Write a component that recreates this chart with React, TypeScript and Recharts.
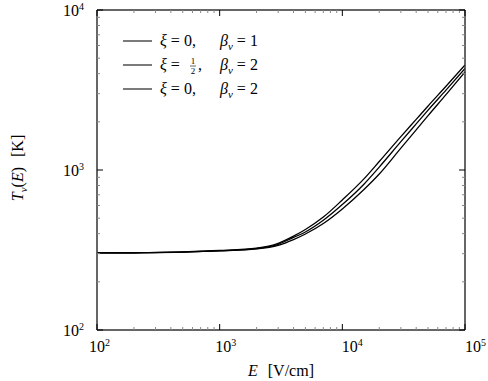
import { LineChart, Line, XAxis, YAxis, Legend, Label } from 'recharts';

// field strength E [V/cm]
const fieldE = [100, 200, 500, 1000, 2000, 3000, 4000, 5000, 7000, 10000, 15000, 20000, 30000, 40000, 50000, 70000, 100000];
// T_nu(E) [K]
const tXi0Beta1 = [303, 304, 308, 314, 325, 348, 386, 425, 508, 650, 880, 1130, 1617, 2072, 2512, 3335, 4530];
const tXiHalfBeta2 = [303, 304, 307, 313, 323, 343, 379, 410, 485, 608, 815, 1043, 1503, 1941, 2366, 3155, 4306];
const tXi0Beta2 = [303, 304, 307, 312, 321, 338, 367, 398, 463, 571, 755, 944, 1370, 1781, 2188, 2958, 4100];

const xMajorTicks = [100, 1000, 10000, 100000];
const yMajorTicks = [100, 1000, 10000];
const minorSteps = [2, 3, 4, 5, 6, 7, 8, 9];

const legendXi = ['0', '1/2', '0'];
const legendBeta = ['1', '2', '2'];

const FONT = '"Liberation Serif", "DejaVu Serif", serif';
const FRAME = '#333';
const PLOT_LEFT = 97;

const withMinors = (majors: number[]) => {
  const out: number[] = [];
  majors.forEach((m, i) => {
    out.push(m);
    if (i < majors.length - 1) minorSteps.forEach(s => out.push(m * s));
  });
  return out;
};

const xTicks = withMinors(xMajorTicks);
const yTicks = withMinors(yMajorTicks);

const data = fieldE.map((E, i) => ({
  E,
  a: tXi0Beta1[i],
  b: tXiHalfBeta2[i],
  c: tXi0Beta2[i],
}));

const isMajor = (v: number) => Math.abs(Math.log10(v) - Math.round(Math.log10(v))) < 1e-6;

function XTick(props: any) {
  const { x, y, payload, side } = props;
  const v = payload.value;
  const major = isMajor(v);
  const len = major ? 6 : 3;
  const dir = side === 'bottom' ? -1 : 1;
  const lx = Math.min(x - 8 + (x - PLOT_LEFT) * 0.03, 488 - 23);
  return (
    <g>
      <line x1={x} x2={x} y1={y} y2={y + dir * len} stroke={major ? '#000' : '#888'} strokeWidth={1} />
      {side === 'bottom' && major && (
        <text x={lx} y={y + 22} fontSize={16} style={{ fontFamily: FONT }} fill="#000">
          10<tspan fontSize={10} dy={-6}>{Math.round(Math.log10(v))}</tspan>
        </text>
      )}
    </g>
  );
}

function YTick(props: any) {
  const { x, y, payload, side } = props;
  const v = payload.value;
  const major = isMajor(v);
  const len = major ? 6 : 3;
  const dir = side === 'left' ? 1 : -1;
  return (
    <g>
      <line x1={x} x2={x + dir * len} y1={y} y2={y} stroke={major ? '#000' : '#888'} strokeWidth={1} />
      {side === 'left' && major && (
        <text x={x - 13} y={y + 6} fontSize={16} style={{ fontFamily: FONT }} fill="#000" textAnchor="end">
          10<tspan fontSize={10} dy={-6}>{Math.round(Math.log10(v))}</tspan>
        </text>
      )}
    </g>
  );
}

function LegendBox() {
  return (
    <svg width={240} height={80} style={{ display: 'block' }}>
      {legendXi.map((xi, i) => {
        const y = 16 + i * 24;
        return (
          <g key={i} style={{ fontFamily: FONT }} fontSize={16} fill="#000">
            <line x1={13} x2={42} y1={y} y2={y} stroke="#222" strokeWidth={1.2} />
            <text x={50} y={y + 5}>
              <tspan fontStyle="italic">ξ</tspan>
              <tspan dx={4}>=</tspan>
              {xi !== '1/2' && <tspan dx={4}>{xi},</tspan>}
            </text>
            {xi === '1/2' && (
              <g>
                <text x={83} y={y - 1} fontSize={9} textAnchor="middle">1</text>
                <line x1={80} x2={86} y1={y + 1} y2={y + 1} stroke="#000" strokeWidth={0.6} />
                <text x={83} y={y + 9} fontSize={9} textAnchor="middle">2</text>
                <text x={88} y={y + 5}>,</text>
              </g>
            )}
            <text x={110} y={y + 5}>
              <tspan fontStyle="italic">β</tspan>
              <tspan fontStyle="italic" fontSize={11} dy={4}>ν</tspan>
              <tspan dy={-4} dx={4}>=</tspan>
              <tspan dx={4}>{legendBeta[i]}</tspan>
            </text>
          </g>
        );
      })}
    </svg>
  );
}

export default function App() {
  return (
    <div style={{ position: 'absolute', left: 0, top: 0, background: '#fff' }}>
      <LineChart
        width={488}
        height={381}
        data={data}
        margin={{ top: 9, right: 22, bottom: 0, left: 0 }}
      >
        <XAxis
          dataKey="E"
          type="number"
          scale="log"
          domain={[100, 100000]}
          ticks={xTicks}
          interval={0}
          tickSize={0}
          tickMargin={0}
          height={51}
          axisLine={{ stroke: FRAME, strokeWidth: 1.5 }}
          tickLine={false}
          tick={(p: any) => <XTick {...p} side="bottom" />}
          allowDataOverflow
        >
          <Label
            content={({ viewBox }: any) => (
              <text
                x={viewBox.x + viewBox.width / 2}
                y={viewBox.y + 46}
                fontSize={16}
                style={{ fontFamily: FONT }}
                textAnchor="middle"
                fill="#000"
              >
                <tspan fontStyle="italic">E</tspan>
                <tspan dx={10}>[V/cm]</tspan>
              </text>
            )}
          />
        </XAxis>
        <XAxis
          xAxisId="top"
          orientation="top"
          dataKey="E"
          type="number"
          scale="log"
          domain={[100, 100000]}
          ticks={xTicks}
          interval={0}
          tickSize={0}
          tickMargin={0}
          height={1}
          axisLine={{ stroke: FRAME, strokeWidth: 1.5 }}
          tickLine={false}
          tick={(p: any) => <XTick {...p} side="top" />}
          allowDataOverflow
        />
        <YAxis
          type="number"
          scale="log"
          domain={[100, 10000]}
          ticks={yTicks}
          interval={0}
          tickSize={0}
          tickMargin={0}
          width={97}
          axisLine={{ stroke: FRAME, strokeWidth: 1.5 }}
          tickLine={false}
          tick={(p: any) => <YTick {...p} side="left" />}
          allowDataOverflow
        >
          <Label
            content={() => (
              <text
                x={23}
                y={168}
                transform="rotate(-90 23 168)"
                fontSize={16}
                style={{ fontFamily: FONT }}
                textAnchor="middle"
                fill="#000"
              >
                <tspan fontStyle="italic">T</tspan>
                <tspan fontStyle="italic" fontSize={11} dy={4}>ν</tspan>
                <tspan dy={-4}>(</tspan>
                <tspan fontStyle="italic">E</tspan>
                <tspan>)</tspan>
                <tspan dx={10}>[K]</tspan>
              </text>
            )}
          />
        </YAxis>
        <YAxis
          yAxisId="right"
          orientation="right"
          type="number"
          scale="log"
          domain={[100, 10000]}
          ticks={yTicks}
          interval={0}
          tickSize={0}
          tickMargin={0}
          width={1}
          axisLine={{ stroke: FRAME, strokeWidth: 1.5 }}
          tickLine={false}
          tick={(p: any) => <YTick {...p} side="right" />}
          allowDataOverflow
        />
        <Legend
          layout="vertical"
          align="center"
          verticalAlign="middle"
          wrapperStyle={{ left: 110, top: 25, width: 240, height: 80 }}
          content={() => <LegendBox />}
        />
        <Line type="monotone" dataKey="a" stroke="#000" strokeWidth={1.3} dot={false} isAnimationActive={false} />
        <Line type="monotone" dataKey="b" stroke="#000" strokeWidth={1.3} dot={false} isAnimationActive={false} />
        <Line type="monotone" dataKey="c" stroke="#000" strokeWidth={1.3} dot={false} isAnimationActive={false} />
      </LineChart>
    </div>
  );
}
